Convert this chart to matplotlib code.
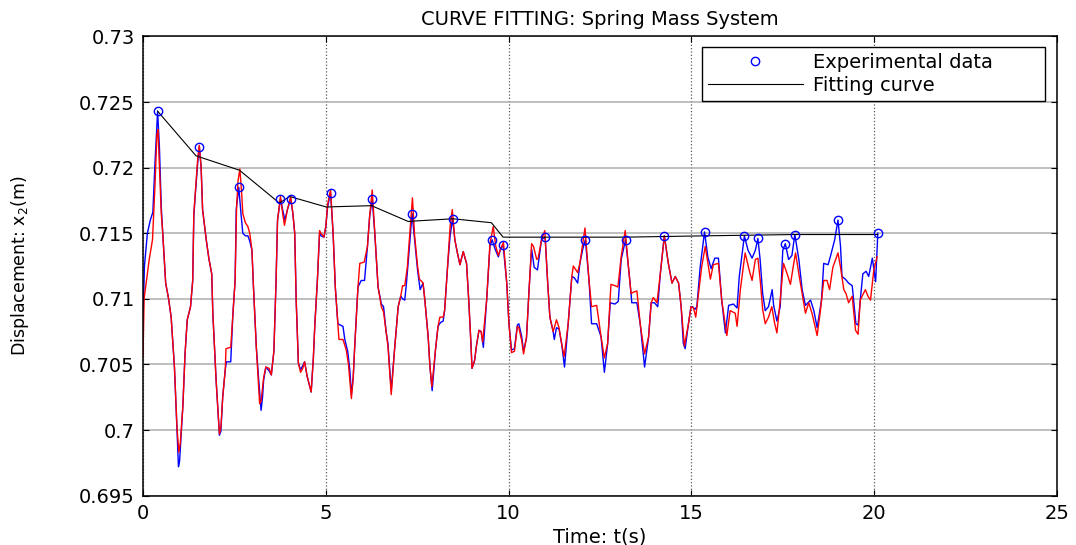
import matplotlib
matplotlib.use("Agg")
import matplotlib.pyplot as plt
from matplotlib.ticker import FormatStrFormatter

blue_t = [0.00, 0.04, 0.12, 0.20, 0.27, 0.33, 0.40, 0.45, 0.50, 0.54, 0.62, 0.70, 0.77, 0.86, 0.93, 0.97, 1.00, 1.04, 1.09, 1.15, 1.21, 1.30, 1.36, 1.39, 1.44, 1.50, 1.54,
          1.59, 1.63, 1.73, 1.80, 1.88, 1.91, 2.00, 2.05, 2.09, 2.13, 2.18, 2.25, 2.28, 2.40, 2.46, 2.52, 2.55, 2.62,
          2.68, 2.73, 2.80, 2.87, 2.92, 2.98, 3.02, 3.10, 3.16, 3.23, 3.27, 3.30, 3.36, 3.45, 3.51, 3.58, 3.64, 3.68, 3.76, 3.82, 3.88, 3.95, 4.04,
          4.10, 4.15, 4.19, 4.25, 4.31, 4.37, 4.42, 4.49, 4.60, 4.66, 4.70, 4.77, 4.83, 4.87, 4.95, 5.00, 5.05, 5.13,
          5.20, 5.26, 5.33, 5.40, 5.47, 5.52, 5.60, 5.66, 5.70, 5.75, 5.79, 5.88, 5.97, 6.06, 6.14, 6.20, 6.27,
          6.34, 6.43, 6.52, 6.58, 6.65, 6.70, 6.79, 6.88, 6.98, 7.05, 7.10, 7.16, 7.20, 7.26, 7.36,
          7.43, 7.51, 7.58, 7.66, 7.71, 7.80, 7.85, 7.91, 8.00, 8.07, 8.14, 8.21, 8.25, 8.33, 8.40, 8.47,
          8.53, 8.60, 8.67, 8.76, 8.85, 8.91, 8.97, 9.00, 9.07, 9.12, 9.19, 9.25, 9.31, 9.40, 9.49, 9.55, 9.63, 9.72, 9.78, 9.85,
          9.95, 10.01, 10.08, 10.16, 10.24, 10.28, 10.36, 10.41, 10.49, 10.56, 10.63, 10.70, 10.79, 10.90, 11.00,
          11.07, 11.13, 11.22, 11.25, 11.31, 11.38, 11.45, 11.53, 11.63, 11.73, 11.80, 11.89, 11.95, 12.03, 12.10,
          12.20, 12.27, 12.41, 12.53, 12.62, 12.71, 12.78, 12.91, 13.00, 13.08, 13.20,
          13.28, 13.35, 13.37, 13.51, 13.60, 13.72, 13.83, 13.90, 13.99, 14.08, 14.15, 14.26,
          14.37, 14.47, 14.56, 14.65, 14.72, 14.78, 14.83, 14.92, 14.99, 15.03, 15.10, 15.15, 15.24, 15.36,
          15.45, 15.54, 15.64, 15.74, 15.83, 15.93, 16.02, 16.15, 16.25, 16.31, 16.45,
          16.55, 16.66, 16.75, 16.82, 16.88, 16.95, 17.02, 17.11, 17.21, 17.25, 17.34, 17.43, 17.50, 17.57, 17.66, 17.75, 17.83,
          17.94, 18.03, 18.12, 18.26, 18.35, 18.44, 18.56, 18.62, 18.74, 18.80, 18.92, 19.01,
          19.08, 19.12, 19.21, 19.30, 19.40, 19.50, 19.56, 19.62, 19.69, 19.78, 19.85, 19.95, 20.04, 20.10]
blue_x2 = [0.7084, 0.7125, 0.7150, 0.7160, 0.7166, 0.7205, 0.7243, 0.7215, 0.7170, 0.7150, 0.7112, 0.7100, 0.7086, 0.7048, 0.7000, 0.6972, 0.6976, 0.6995, 0.7018, 0.7058, 0.7084, 0.7094, 0.7114, 0.7163, 0.7183, 0.7205, 0.7216,
           0.7200, 0.7168, 0.7145, 0.7131, 0.7119, 0.7089, 0.7038, 0.7015, 0.6996, 0.6999, 0.7025, 0.7046, 0.7052, 0.7052, 0.7089, 0.7114, 0.7168, 0.7185,
           0.7165, 0.7150, 0.7148, 0.7148, 0.7144, 0.7137, 0.7110, 0.7063, 0.7040, 0.7015, 0.7025, 0.7038, 0.7048, 0.7045, 0.7042, 0.7060, 0.7114, 0.7160, 0.7176, 0.7168, 0.7160, 0.7168, 0.7176,
           0.7165, 0.7150, 0.7099, 0.7051, 0.7046, 0.7049, 0.7052, 0.7041, 0.7029, 0.7055, 0.7080, 0.7114, 0.7150, 0.7148, 0.7147, 0.7155, 0.7170, 0.7181,
           0.7150, 0.7109, 0.7081, 0.7080, 0.7079, 0.7069, 0.7060, 0.7045, 0.7027, 0.7040, 0.7063, 0.7109, 0.7114, 0.7114, 0.7140, 0.7163, 0.7176,
           0.7150, 0.7109, 0.7096, 0.7094, 0.7075, 0.7066, 0.7030, 0.7061, 0.7094, 0.7102, 0.7100, 0.7099, 0.7110, 0.7130, 0.7165,
           0.7145, 0.7122, 0.7107, 0.7112, 0.7099, 0.7071, 0.7048, 0.7030, 0.7061, 0.7079, 0.7082, 0.7083, 0.7091, 0.7124, 0.7148, 0.7161,
           0.7145, 0.7135, 0.7126, 0.7136, 0.7127, 0.7099, 0.7066, 0.7047, 0.7053, 0.7064, 0.7076, 0.7075, 0.7063, 0.7099, 0.7140, 0.7145, 0.7138, 0.7132, 0.7138, 0.7141,
           0.7112, 0.7081, 0.7061, 0.7062, 0.7080, 0.7081, 0.7071, 0.7060, 0.7070, 0.7107, 0.7138, 0.7124, 0.7122, 0.7145, 0.7147,
           0.7112, 0.7086, 0.7075, 0.7069, 0.7078, 0.7077, 0.7066, 0.7048, 0.7081, 0.7117, 0.7116, 0.7112, 0.7127, 0.7138, 0.7145,
           0.7114, 0.7081, 0.7081, 0.7071, 0.7044, 0.7066, 0.7097, 0.7096, 0.7098, 0.7130, 0.7145,
           0.7124, 0.7104, 0.7097, 0.7097, 0.7081, 0.7048, 0.7071, 0.7097, 0.7097, 0.7094, 0.7119, 0.7148,
           0.7127, 0.7112, 0.7117, 0.7112, 0.7094, 0.7066, 0.7062, 0.7081, 0.7094, 0.7094, 0.7092, 0.7094, 0.7124, 0.7151,
           0.7132, 0.7123, 0.7131, 0.7131, 0.7099, 0.7074, 0.7095, 0.7096, 0.7093, 0.7117, 0.7148,
           0.7137, 0.7131, 0.7137, 0.7146, 0.7130, 0.7104, 0.7091, 0.7094, 0.7107, 0.7095, 0.7083, 0.7094, 0.7137, 0.7142, 0.7130, 0.7133, 0.7149,
           0.7130, 0.7107, 0.7095, 0.7099, 0.7091, 0.7078, 0.7099, 0.7127, 0.7126, 0.7132, 0.7145, 0.7160,
           0.7140, 0.7117, 0.7115, 0.7112, 0.7110, 0.7081, 0.7080, 0.7099, 0.7119, 0.7121, 0.7117, 0.7131, 0.7113, 0.7150]

# simulated response (red)
red_t = [0.00, 0.03, 0.11, 0.17, 0.26, 0.33, 0.38, 0.41, 0.45, 0.50, 0.54, 0.62, 0.70, 0.77, 0.86, 0.93, 0.98, 1.02, 1.09, 1.15, 1.21, 1.30, 1.36, 1.39, 1.44, 1.50, 1.54,
         1.59, 1.63, 1.73, 1.80, 1.88, 1.91, 2.00, 2.05, 2.09, 2.13, 2.18, 2.25, 2.27, 2.40, 2.46, 2.52, 2.56, 2.60, 2.65,
         2.70, 2.73, 2.80, 2.87, 2.92, 2.98, 3.02, 3.10, 3.19, 3.23, 3.27, 3.30, 3.36, 3.45, 3.51, 3.58, 3.64, 3.68, 3.76, 3.82, 3.87, 3.95, 4.04,
         4.10, 4.15, 4.19, 4.25, 4.31, 4.37, 4.42, 4.49, 4.60, 4.66, 4.70, 4.77, 4.83, 4.87, 4.95, 5.00, 5.05, 5.13,
         5.20, 5.26, 5.33, 5.36, 5.47, 5.56, 5.62, 5.70, 5.75, 5.79, 5.88, 5.93, 6.05, 6.14, 6.20, 6.27,
         6.34, 6.43, 6.52, 6.58, 6.65, 6.70, 6.79, 6.88, 6.98, 7.05, 7.10, 7.16, 7.23, 7.30, 7.37,
         7.43, 7.51, 7.56, 7.63, 7.66, 7.71, 7.80, 7.85, 7.90, 8.00, 8.07, 8.12, 8.21, 8.25, 8.33, 8.40, 8.46,
         8.53, 8.60, 8.67, 8.76, 8.85, 8.91, 8.97, 9.00, 9.07, 9.12, 9.19, 9.25, 9.29, 9.40, 9.49, 9.58, 9.65, 9.72, 9.78, 9.86,
         9.95, 10.01, 10.08, 10.16, 10.24, 10.28, 10.36, 10.41, 10.49, 10.56, 10.63, 10.68, 10.77, 10.81, 10.90, 10.99,
         11.07, 11.13, 11.22, 11.31, 11.38, 11.45, 11.52, 11.63, 11.73, 11.77, 11.89, 11.95, 12.09,
         12.20, 12.27, 12.41, 12.53, 12.62, 12.71, 12.80, 12.91, 12.99, 13.08, 13.19,
         13.28, 13.35, 13.41, 13.51, 13.60, 13.72, 13.83, 13.90, 13.96, 14.06, 14.15, 14.26,
         14.37, 14.47, 14.56, 14.65, 14.72, 14.81, 14.92, 14.99, 15.06, 15.12, 15.28, 15.38,
         15.52, 15.60, 15.74, 15.83, 15.97, 16.06, 16.20, 16.25, 16.34, 16.47,
         16.58, 16.66, 16.75, 16.82, 16.89, 16.95, 17.02, 17.11, 17.20, 17.28, 17.34, 17.43, 17.52, 17.62, 17.71, 17.80, 17.85,
         17.94, 18.03, 18.12, 18.21, 18.30, 18.44, 18.53, 18.62, 18.71, 18.78, 18.87, 19.01,
         19.08, 19.17, 19.23, 19.30, 19.40, 19.49, 19.56, 19.62, 19.67, 19.76, 19.83, 19.90, 19.99, 20.08]
red_x2 = [0.7056, 0.7100, 0.7117, 0.7130, 0.7145, 0.7188, 0.7225, 0.7229, 0.7200, 0.7165, 0.7150, 0.7112, 0.7100, 0.7086, 0.7048, 0.7002, 0.6983, 0.6990, 0.7018, 0.7058, 0.7084, 0.7094, 0.7114, 0.7165, 0.7185, 0.7208, 0.7217,
          0.7200, 0.7168, 0.7145, 0.7131, 0.7119, 0.7089, 0.7038, 0.7015, 0.6997, 0.7002, 0.7025, 0.7046, 0.7062, 0.7063, 0.7089, 0.7114, 0.7170, 0.7190, 0.7199,
          0.7180, 0.7165, 0.7158, 0.7155, 0.7150, 0.7137, 0.7110, 0.7063, 0.7020, 0.7022, 0.7032, 0.7040, 0.7048, 0.7047, 0.7042, 0.7060, 0.7114, 0.7160, 0.7178, 0.7165, 0.7156, 0.7168, 0.7178,
          0.7165, 0.7150, 0.7099, 0.7051, 0.7044, 0.7047, 0.7052, 0.7041, 0.7029, 0.7055, 0.7080, 0.7114, 0.7152, 0.7150, 0.7147, 0.7155, 0.7172, 0.7183,
          0.7150, 0.7109, 0.7081, 0.7069, 0.7069, 0.7061, 0.7050, 0.7024, 0.7040, 0.7063, 0.7109, 0.7127, 0.7128, 0.7140, 0.7163, 0.7183,
          0.7150, 0.7109, 0.7094, 0.7090, 0.7075, 0.7064, 0.7027, 0.7061, 0.7094, 0.7102, 0.7110, 0.7110, 0.7124, 0.7150, 0.7177,
          0.7148, 0.7125, 0.7115, 0.7113, 0.7112, 0.7099, 0.7071, 0.7048, 0.7033, 0.7061, 0.7079, 0.7086, 0.7086, 0.7091, 0.7124, 0.7155, 0.7168,
          0.7145, 0.7135, 0.7126, 0.7136, 0.7127, 0.7099, 0.7066, 0.7047, 0.7053, 0.7064, 0.7076, 0.7075, 0.7067, 0.7099, 0.7142, 0.7155, 0.7140, 0.7133, 0.7138, 0.7143,
          0.7112, 0.7081, 0.7059, 0.7060, 0.7079, 0.7078, 0.7068, 0.7058, 0.7071, 0.7107, 0.7142, 0.7140, 0.7130, 0.7131, 0.7145, 0.7152,
          0.7112, 0.7086, 0.7075, 0.7084, 0.7078, 0.7066, 0.7056, 0.7081, 0.7117, 0.7125, 0.7120, 0.7127, 0.7154,
          0.7114, 0.7094, 0.7095, 0.7071, 0.7055, 0.7066, 0.7111, 0.7110, 0.7109, 0.7132, 0.7152,
          0.7124, 0.7104, 0.7105, 0.7106, 0.7081, 0.7058, 0.7071, 0.7097, 0.7101, 0.7097, 0.7119, 0.7148,
          0.7127, 0.7112, 0.7117, 0.7112, 0.7094, 0.7064, 0.7081, 0.7094, 0.7093, 0.7086, 0.7124, 0.7140,
          0.7115, 0.7126, 0.7127, 0.7099, 0.7072, 0.7091, 0.7089, 0.7079, 0.7107, 0.7135,
          0.7122, 0.7114, 0.7130, 0.7131, 0.7112, 0.7092, 0.7081, 0.7086, 0.7094, 0.7081, 0.7074, 0.7099, 0.7127, 0.7119, 0.7111, 0.7127, 0.7135,
          0.7119, 0.7104, 0.7089, 0.7097, 0.7089, 0.7072, 0.7091, 0.7114, 0.7114, 0.7107, 0.7124, 0.7135,
          0.7124, 0.7107, 0.7104, 0.7097, 0.7102, 0.7076, 0.7073, 0.7099, 0.7102, 0.7107, 0.7102, 0.7099, 0.7122, 0.7132]

# picked peaks ("Experimental data") and the fitted envelope
exp_t = [0.40, 1.54, 2.62, 3.76, 4.04, 5.13, 6.27, 7.36, 8.47, 9.55, 9.85, 11.00,
         12.10, 13.20, 14.26, 15.36, 16.45, 16.82, 17.57, 17.83, 19.01, 20.10]
exp_x2 = [0.7243, 0.7216, 0.7185, 0.7176, 0.7176, 0.7181, 0.7176, 0.7165, 0.7161, 0.7145, 0.7141, 0.7147,
          0.7145, 0.7145, 0.7148, 0.7151, 0.7148, 0.7146, 0.7142, 0.7149, 0.7160, 0.7150]

fit_t = [0.40, 1.45, 2.64, 3.73, 4.01, 5.01, 6.25, 7.25, 8.48, 9.53, 9.85, 13.20, 15.36, 17.83, 20.10]
fit_x2 = [0.7243, 0.7209, 0.7198, 0.7173, 0.7178, 0.7170, 0.7171, 0.7159, 0.7161, 0.7158, 0.7147,
          0.7147, 0.7148, 0.7149, 0.7149]

x_ticks = [0, 5, 10, 15, 20, 25]
y_ticks = [0.695, 0.70, 0.705, 0.71, 0.715, 0.72, 0.725, 0.73]

assert len(blue_t) == len(blue_x2)
assert len(red_t) == len(red_x2)

plt.rcParams["font.family"] = ["DejaVu Sans"]

fig = plt.figure(figsize=(10.76, 5.45), dpi=100)
ax = fig.add_axes([0.1329, 0.0906, 0.8494, 0.8426])

ax.plot(blue_t, blue_x2, color="blue", lw=1.0)
ax.plot(red_t, red_x2, color="red", lw=1.0)
fit_line, = ax.plot(fit_t, fit_x2, color="black", lw=0.8)
exp_pts, = ax.plot(exp_t, exp_x2, "o", ms=6, mfc="none", mec="blue", mew=1.0)

ax.set_xlim(0, 25)
ax.set_ylim(0.695, 0.73)
ax.set_xticks(x_ticks)
ax.set_yticks(y_ticks)
ax.yaxis.set_major_formatter(FormatStrFormatter("%g"))
ax.tick_params(direction="in", length=4, width=0.8, top=True, right=True,
               labelsize=14, pad=6)

# matlab style grid: dotted verticals, light horizontals
ax.xaxis.grid(True, ls=":", color="0.35", lw=0.9)
ax.yaxis.grid(True, ls="-", color="0.68", lw=1.1)
ax.set_axisbelow(True)
for sp in ax.spines.values():
    sp.set_linewidth(1.1)

ax.set_title("CURVE FITTING: Spring Mass System", fontsize=14, pad=8)
ax.set_xlabel("Time: t(s)", fontsize=14, labelpad=3)
ax.set_ylabel("Displacement: x$_2$(m)", fontsize=12.5)
ax.yaxis.set_label_coords(-0.1225, 0.5)

leg = ax.legend([exp_pts, fit_line], ["Experimental data", "Fitting curve"],
                loc="upper left", bbox_to_anchor=(0.6116, 0.976, 0.3753, 0.0),
                mode="expand", borderaxespad=0, fontsize=14, numpoints=1,
                handlelength=4.9, handletextpad=0.5, borderpad=0.3,
                labelspacing=0.2, fancybox=False, framealpha=1)
leg.get_frame().set_edgecolor("black")
leg.get_frame().set_linewidth(1.0)

fig.savefig("out.png", dpi=100)
